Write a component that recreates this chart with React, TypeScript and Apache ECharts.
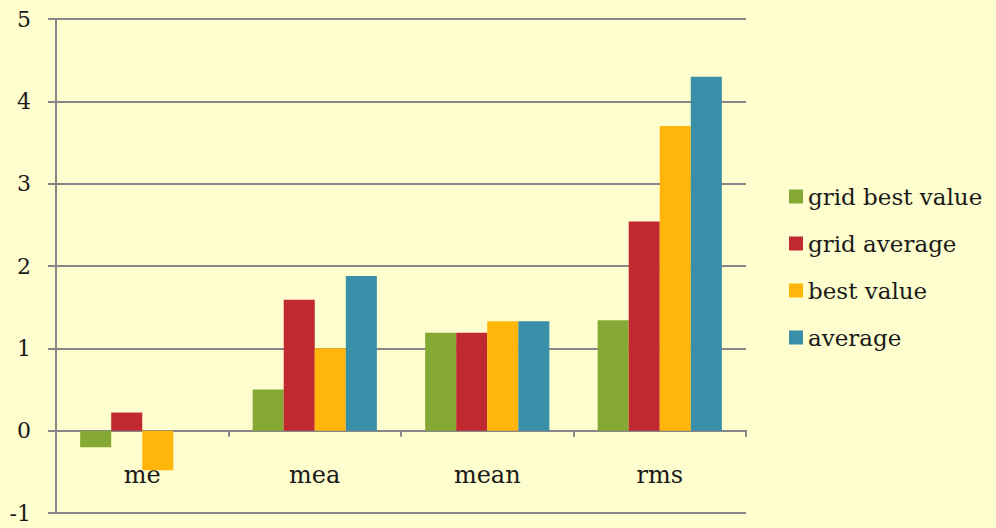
import React, { useEffect, useRef } from "react";
import * as echarts from "echarts";

const categories = ["me", "mea", "mean", "rms"];
const gridBestValue = [-0.2, 0.5, 1.19, 1.34];
const gridAverage = [0.22, 1.59, 1.19, 2.54];
const bestValue = [-0.48, 1.0, 1.33, 3.7];
const average: (number | null)[] = [null, 1.88, 1.33, 4.3];

const seriesNames = ["grid best value", "grid average", "best value", "average"];
const seriesColors = ["#86A835", "#C0292F", "#FFB50A", "#3A8FA8"];

const FONT = "DejaVu Serif";
const AXIS_GRAY = "#878787";
const TEXT = "#1a1a1a";

export default function App() {
  const ref = useRef<HTMLDivElement>(null);

  useEffect(() => {
    if (!ref.current) return;
    const chart = echarts.init(ref.current, undefined, { renderer: "svg" });
    const values = [gridBestValue, gridAverage, bestValue, average];
    chart.setOption({
      animation: false,
      backgroundColor: "#FEFDCD",
      textStyle: { fontFamily: FONT },
      grid: { left: 56, right: 250, top: 19, bottom: 15, outerBoundsMode: "none", containLabel: false },
      legend: {
        orient: "vertical",
        left: 784,
        top: 180,
        itemWidth: 14,
        itemHeight: 14,
        itemGap: 24,
        icon: "rect",
        textStyle: { fontFamily: FONT, fontSize: 23, color: TEXT },
        data: seriesNames,
      },
      xAxis: {
        type: "category",
        data: categories,
        axisLine: { onZero: true, lineStyle: { color: AXIS_GRAY, width: 2 } },
        axisTick: { show: true, length: 6, inside: false, lineStyle: { color: AXIS_GRAY, width: 2 } },
        // category names sit just under the zero line, inside the plot
        axisLabel: { fontFamily: FONT, fontSize: 24, color: TEXT, margin: -50 },
        splitLine: { show: false },
      },
      yAxis: {
        type: "value",
        min: -1,
        max: 5,
        interval: 1,
        axisLine: { show: true, lineStyle: { color: AXIS_GRAY, width: 2 } },
        axisTick: { show: true, length: 8, lineStyle: { color: AXIS_GRAY, width: 2 } },
        axisLabel: { fontFamily: FONT, fontSize: 22, color: TEXT, margin: 25 },
        splitLine: { show: true, lineStyle: { color: AXIS_GRAY, width: 2 } },
      },
      series: seriesNames.map((name, i) => ({
        name,
        type: "bar",
        data: values[i],
        barGap: "0%",
        barCategoryGap: "28%",
        itemStyle: { color: seriesColors[i] },
      })),
    });
    return () => chart.dispose();
  }, []);

  return <div ref={ref} style={{ width: 996, height: 528, position: "absolute", left: 0, top: 0 }} />;
}
